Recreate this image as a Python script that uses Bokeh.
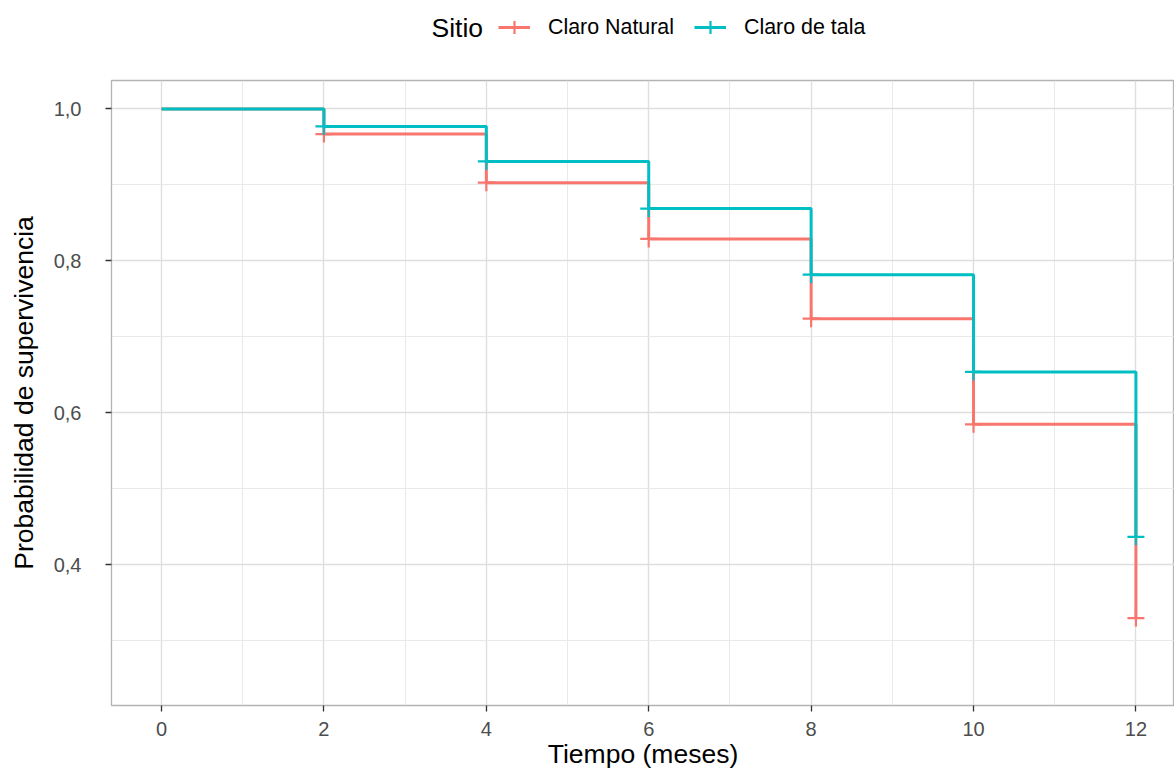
from bokeh.plotting import figure
from bokeh.layouts import column
from bokeh.models import (Range1d, FixedTicker, Legend, LegendItem, Label)
from bokeh.embed import file_html
from bokeh.resources import INLINE

# ---- data ----
tiempo = [0, 2, 4, 6, 8, 10, 12]
claro_natural = [1.0, 0.967, 0.903, 0.829, 0.724, 0.585, 0.330]
claro_tala = [1.0, 0.977, 0.931, 0.869, 0.782, 0.654, 0.437]
series_names = ["Claro Natural", "Claro de tala"]
series_colors = ["#F8766D", "#00BFC4"]
legend_title = "Sitio"
x_ticks = [0, 2, 4, 6, 8, 10, 12]
x_minor = [1, 3, 5, 7, 9, 11]
y_ticks = [0.4, 0.6, 0.8, 1.0]
y_tick_labels = ["0,4", "0,6", "0,8", "1,0"]
y_minor = [0.3, 0.5, 0.7, 0.9]

FONT = "Liberation Sans"
LEG_H = 55
LEFT = 111
NAN = float("nan")

# ---------------- legend strip ----------------
leg = figure(width=1174, height=LEG_H, output_backend="svg", toolbar_location=None,
             x_range=Range1d(0, 1), y_range=Range1d(0, 1),
             x_axis_type=None, y_axis_type=None,
             min_border_left=0, min_border_right=0, min_border_top=0,
             min_border_bottom=0)
leg.outline_line_color = None
leg.xgrid.visible = False
leg.ygrid.visible = False
leg.border_fill_color = "white"
leg.background_fill_color = "white"

leg_items = []
for name, col in zip(series_names, series_colors):
    # placeholder renderers (not drawn) that only carry the legend key style
    r1 = leg.line(x=[NAN, NAN], y=[NAN, NAN], line_color=col, line_width=3)
    r2 = leg.scatter(x=[NAN], y=[NAN], marker="cross", size=17, line_color=col,
                     line_width=2.2)
    leg_items.append(LegendItem(label=name, renderers=[r1, r2]))

legend = Legend(items=leg_items, orientation="horizontal",
                location=(498 - LEFT, 6),
                glyph_width=32, glyph_height=44, label_standoff=18, spacing=20,
                padding=0, margin=0, border_line_color=None,
                background_fill_alpha=0, label_text_font=FONT,
                label_text_font_size="21.4px", label_text_color="black")
leg.add_layout(legend, "center")
leg.add_layout(Label(x=431 - LEFT, y=LEG_H - 27, x_units="screen", y_units="screen",
                     text=legend_title, text_font=FONT, text_font_size="26.5px",
                     text_baseline="middle", text_align="left",
                     text_color="black"))

# ---------------- main plot ----------------
p = figure(width=1174, height=773 - LEG_H, output_backend="svg",
           toolbar_location=None,
           x_range=Range1d(-0.616, 12.475), y_range=Range1d(0.215, 1.0375),
           min_border_left=LEFT, min_border_right=0, min_border_top=80 - LEG_H,
           min_border_bottom=68)

p.background_fill_color = "white"
p.border_fill_color = "white"
p.outline_line_color = "#B3B3B3"
p.outline_line_width = 1.3

for g in (p.xgrid, p.ygrid):
    g.grid_line_color = "#DEDEDE"
    g.grid_line_width = 1.4
    g.minor_grid_line_color = "#E6E6E6"
    g.minor_grid_line_width = 0.9

p.xaxis.ticker = FixedTicker(ticks=x_ticks, minor_ticks=x_minor)
p.yaxis.ticker = FixedTicker(ticks=y_ticks, minor_ticks=y_minor)
p.yaxis.major_label_overrides = {v: s for v, s in zip(y_ticks, y_tick_labels)}

for ax in (p.xaxis, p.yaxis):
    ax.axis_line_color = None
    ax.major_tick_line_color = "#333333"
    ax.major_tick_line_width = 1.3
    ax.major_tick_out = 6
    ax.major_tick_in = 0
    ax.minor_tick_line_color = None
    ax.major_label_text_font = FONT
    ax.major_label_text_font_size = "20px"
    ax.major_label_text_color = "#4D4D4D"
    ax.axis_label_text_font = FONT
    ax.axis_label_text_font_size = "26.5px"
    ax.axis_label_text_font_style = "normal"
    ax.axis_label_text_color = "black"

p.xaxis.axis_label = "Tiempo (meses)"
p.yaxis.axis_label = "Probabilidad de supervivencia"
p.xaxis.major_label_standoff = 10
p.xaxis.axis_label_standoff = 0
p.yaxis.major_label_standoff = 24
p.yaxis.axis_label_standoff = 12

for vals, col in zip([claro_natural, claro_tala], series_colors):
    p.step(tiempo, vals, mode="after", line_color=col, line_width=3)
    p.scatter(tiempo[1:], vals[1:], marker="cross", size=17,
              line_color=col, line_width=2.2)

layout = column(leg, p, spacing=0)
open("out.html", "w").write(file_html(layout, INLINE))
